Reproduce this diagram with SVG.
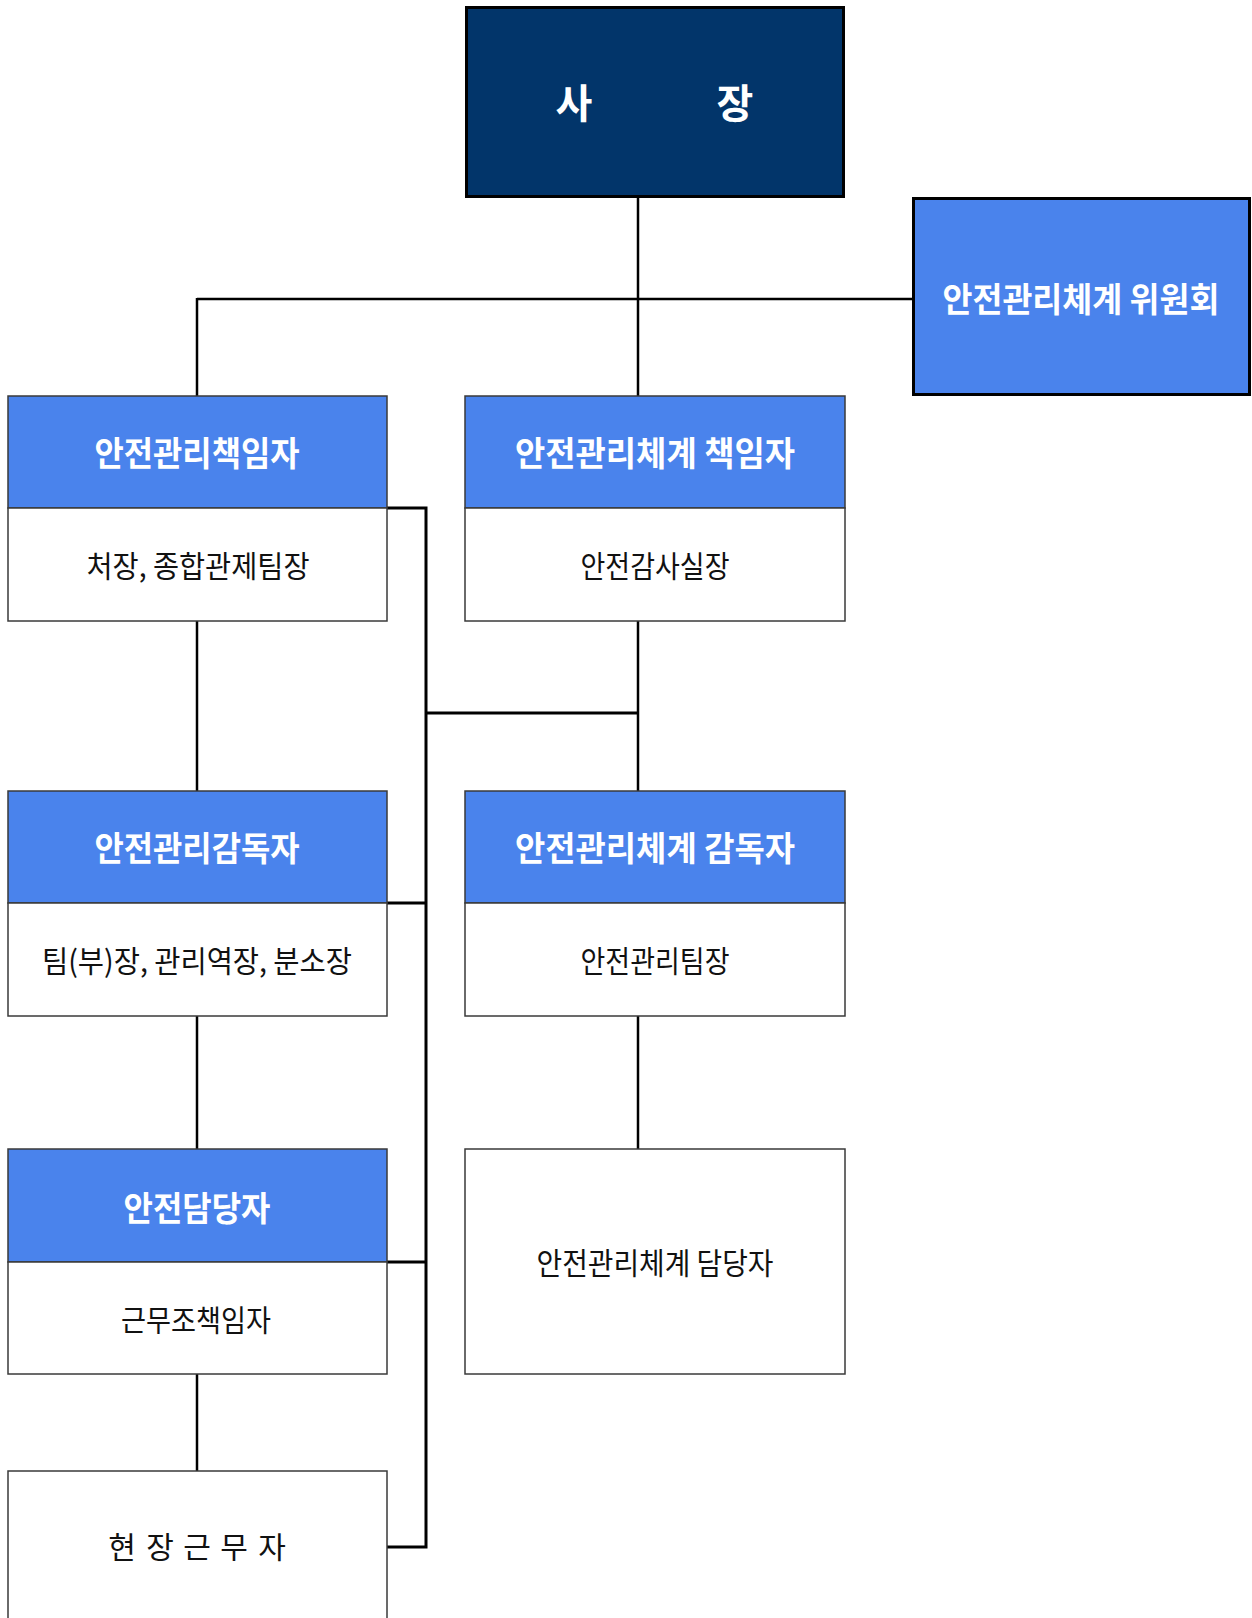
<svg xmlns="http://www.w3.org/2000/svg" width="1252" height="1618" viewBox="0 0 1252 1618">
<style>
.bg{fill:#ffffff}
.hd{fill:#4A83EC;stroke:#3a3a3a;stroke-width:1.5}
.bd{fill:#ffffff;stroke:#3a3a3a;stroke-width:1.5}
.top{fill:#02356A;stroke:#000;stroke-width:3}
.cm{fill:#4A83EC;stroke:#000;stroke-width:3}
.ln{fill:none;stroke:#000;stroke-width:2.5}
.lnb{fill:none;stroke:#000;stroke-width:3}
.th{font-family:"Noto Sans CJK KR","Noto Sans",sans-serif;font-weight:700;font-size:34px;fill:#fff;text-anchor:middle}
.tb{font-family:"Noto Sans CJK KR","Noto Sans",sans-serif;font-weight:400;font-size:30px;fill:#111;text-anchor:middle}
</style>
<rect class="bg" x="0" y="0" width="1252" height="1618"/>
<g id="connectors">
<line class="ln" x1="638" y1="198" x2="638" y2="396"/>
<line class="ln" x1="197" y1="299" x2="912" y2="299"/>
<line class="ln" x1="197" y1="298" x2="197" y2="396"/>
<line class="ln" x1="197" y1="621" x2="197" y2="791"/>
<line class="ln" x1="197" y1="1016" x2="197" y2="1149"/>
<line class="ln" x1="197" y1="1374" x2="197" y2="1471"/>
<line class="ln" x1="638" y1="621" x2="638" y2="791"/>
<line class="ln" x1="638" y1="1016" x2="638" y2="1149"/>
<polyline class="lnb" points="387,508 426,508 426,1547 387,1547"/>
<line class="lnb" x1="387" y1="903" x2="426" y2="903"/>
<line class="lnb" x1="387" y1="1262" x2="426" y2="1262"/>
<line class="lnb" x1="426" y1="713" x2="639" y2="713"/>
</g>
<g id="ceo">
<rect class="top" x="466.5" y="7.5" width="377" height="189"/>
<text class="th" style="font-size:40px" x="574 655 735" y="118">사 장</text>
</g>
<g id="committee">
<rect class="cm" x="913.5" y="198.5" width="336" height="196"/>
<text class="th" x="1081" y="312" textLength="277" lengthAdjust="spacingAndGlyphs">안전관리체계 위원회</text>
</g>
<g id="safety-manager">
<rect class="hd" x="8" y="396" width="379" height="112"/>
<rect class="bd" x="8" y="508" width="379" height="113"/>
<text class="th" x="197" y="466" textLength="205" lengthAdjust="spacingAndGlyphs">안전관리책임자</text>
<text class="tb" x="198" y="577" textLength="223" lengthAdjust="spacingAndGlyphs">처장, 종합관제팀장</text>
</g>
<g id="sms-manager">
<rect class="hd" x="465" y="396" width="380" height="112"/>
<rect class="bd" x="465" y="508" width="380" height="113"/>
<text class="th" x="655" y="466" textLength="280" lengthAdjust="spacingAndGlyphs">안전관리체계 책임자</text>
<text class="tb" x="655" y="577" textLength="149" lengthAdjust="spacingAndGlyphs">안전감사실장</text>
</g>
<g id="safety-supervisor">
<rect class="hd" x="8" y="791" width="379" height="112"/>
<rect class="bd" x="8" y="903" width="379" height="113"/>
<text class="th" x="197" y="861" textLength="205" lengthAdjust="spacingAndGlyphs">안전관리감독자</text>
<text class="tb" x="197" y="972" textLength="310" lengthAdjust="spacingAndGlyphs">팀(부)장, 관리역장, 분소장</text>
</g>
<g id="sms-supervisor">
<rect class="hd" x="465" y="791" width="380" height="112"/>
<rect class="bd" x="465" y="903" width="380" height="113"/>
<text class="th" x="655" y="861" textLength="280" lengthAdjust="spacingAndGlyphs">안전관리체계 감독자</text>
<text class="tb" x="655" y="972" textLength="149" lengthAdjust="spacingAndGlyphs">안전관리팀장</text>
</g>
<g id="safety-officer">
<rect class="hd" x="8" y="1149" width="379" height="113"/>
<rect class="bd" x="8" y="1262" width="379" height="112"/>
<text class="th" x="197" y="1221" textLength="147" lengthAdjust="spacingAndGlyphs">안전담당자</text>
<text class="tb" x="196" y="1331" textLength="150" lengthAdjust="spacingAndGlyphs">근무조책임자</text>
</g>
<g id="sms-officer">
<rect class="bd" x="465" y="1149" width="380" height="225"/>
<text class="tb" x="655" y="1274" textLength="237" lengthAdjust="spacingAndGlyphs">안전관리체계 담당자</text>
</g>
<g id="field-worker">
<rect class="bd" x="8" y="1471" width="379" height="160"/>
<text class="tb" x="122 141 160 178 197 215 234 253 272" y="1558">현 장 근 무 자</text>
</g>
</svg>
